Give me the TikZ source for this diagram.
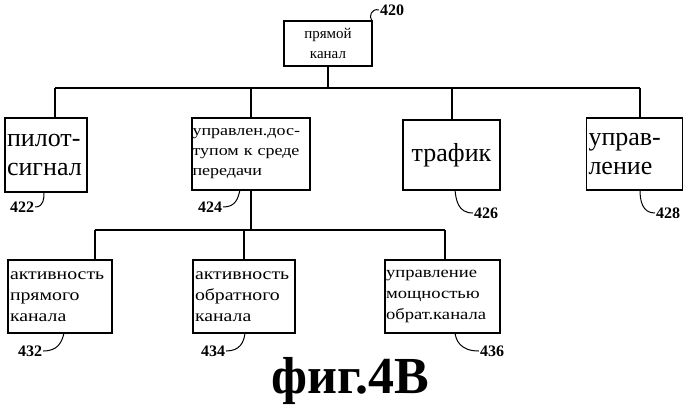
\documentclass[tikz,border=0pt]{standalone}
\usepackage{fontspec}
\setmainfont{Liberation Serif}
\newfontfamily\widefont[FakeStretch=1.2]{Liberation Serif}
\begin{document}
\begin{tikzpicture}[x=1pt,y=-1pt,
  box/.style={draw,line width=1.3pt,inner sep=2pt,align=left,font=\widefont\fontsize{16.5}{21}\selectfont},
  bigbox/.style={draw,line width=1.3pt,inner sep=2pt,align=left,font=\fontsize{26}{29}\selectfont},
  lbl/.style={font=\bfseries\fontsize{16}{18}\selectfont,inner sep=1pt},
  ln/.style={line width=1.3pt},
  lead/.style={line width=1pt}]
\useasboundingbox (0,0) rectangle (700,409);
\node[box,minimum width=88pt,minimum height=45pt,align=center,font=\fontsize{15}{20}\selectfont] (top) at (328,43.5) {прямой\\канал};
\node[bigbox,text width=78pt,minimum height=74pt] (p) at (46,155) {пилот-\\сигнал};
\node[box,text width=117pt,minimum height=72pt,inner sep=0.5pt,font=\widefont\fontsize{15}{20}\selectfont] (m) at (251,154) {управлен.дос-\\тупом к среде\\передачи};
\node[bigbox,minimum width=97pt,minimum height=70pt] (t) at (451.5,155) {трафик};
\node[bigbox,text width=92pt,minimum height=72pt] (u) at (634.5,154) {управ-\\ление};
\node[box,text width=100pt,minimum height=73pt] (a1) at (60,296.5) {активность\\прямого\\канала};
\node[box,text width=98pt,minimum height=73pt] (a2) at (244,296.5) {активность\\обратного\\канала};
\node[box,text width=113pt,minimum height=73pt,inner sep=1pt,font=\widefont\fontsize{15.5}{21}\selectfont] (a3) at (442.5,296.5) {управление\\мощностью\\обрат.канала};
\coordinate (b1) at (328,88);
\draw[ln] (top.south) -- (b1);
\draw[ln] (55,88) -- (640,88);
\draw[ln] (55,88) -- (p.north -| 55,0);
\draw[ln] (251,88) -- (m.north);
\draw[ln] (452,88) -- (t.north -| 452,0);
\draw[ln] (640,88) -- (u.north -| 640,0);
\draw[ln] (m.south) -- (251,230);
\draw[ln] (95,230) -- (445,230);
\draw[ln] (95,230) -- (a1.north -| 95,0);
\draw[ln] (244,230) -- (a2.north);
\draw[ln] (445,230) -- (a3.north -| 445,0);
\node[lbl] (l420) at (392,10) {420};
\node[lbl] (l422) at (22,207) {422};
\node[lbl] (l424) at (210,207) {424};
\node[lbl] (l426) at (486,213) {426};
\node[lbl] (l428) at (668,213) {428};
\node[lbl] (l432) at (30,351) {432};
\node[lbl] (l434) at (213,351) {434};
\node[lbl] (l436) at (492,351) {436};
\draw[lead] (l420.west) .. controls (372,8) and (368,16) .. (372,21);
\draw[lead] (l422.east) .. controls (44,207) and (44,198) .. (44,192);
\draw[lead] (l424.east) .. controls (236,207) and (238,198) .. (240,190);
\draw[lead] (l426.west) .. controls (458,213) and (456,200) .. (455,190);
\draw[lead] (l428.west) .. controls (642,213) and (640,200) .. (640,190);
\draw[lead] (l432.east) .. controls (58,351) and (62,342) .. (64,333);
\draw[lead] (l434.east) .. controls (240,351) and (244,342) .. (245,333);
\draw[lead] (l436.west) .. controls (460,351) and (456,340) .. (455,333);
\node[font=\bfseries\fontsize{52}{56}\selectfont] (title) at (350,381) {фиг.4В};
\end{tikzpicture}
\end{document}
